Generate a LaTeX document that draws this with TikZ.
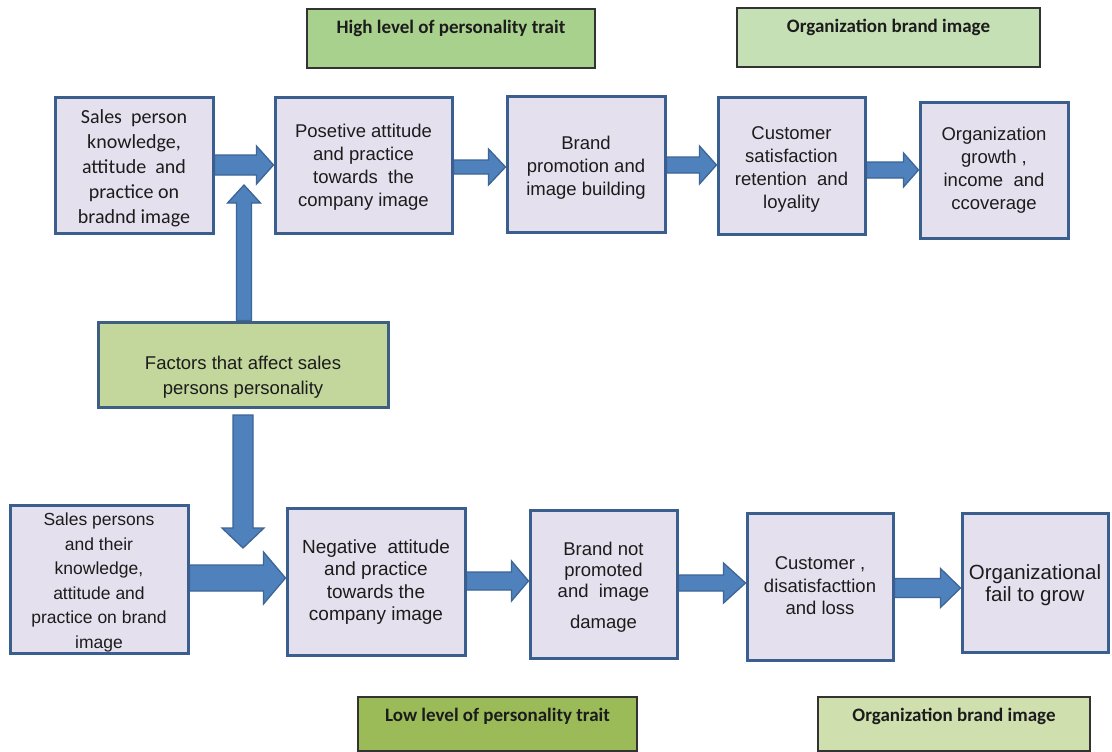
\documentclass[tikz,border=0pt]{standalone}
\usepackage{fontspec}
\setmainfont{Liberation Sans}
\newfontfamily\calib{Carlito}
\usetikzlibrary{calc}
\definecolor{boxfill}{HTML}{E5E0EE}
\definecolor{boxline}{HTML}{3A5F8F}
\definecolor{arrfill}{HTML}{4F81BD}
\definecolor{arrline}{HTML}{3C6696}
\definecolor{txt}{HTML}{1C1C1C}
\definecolor{headline}{HTML}{333333}
\definecolor{hfill}{HTML}{A9D18E}
\definecolor{otfill}{HTML}{C5E0B4}
\definecolor{ffill}{HTML}{C3D69B}
\definecolor{fline}{HTML}{3F5F80}
\definecolor{lfill}{HTML}{9BBB59}
\definecolor{obfill}{HTML}{D0DFAE}
\pgfdeclarelayer{background}
\pgfsetlayers{background,main}
\tikzset{
  box/.style={draw=boxline, line width=3pt, fill=boxfill, inner sep=0pt, align=center,
    font=\fontsize{18.5}{23}\selectfont, text=txt},
  headbox/.style={draw=headline, line width=1.2pt, inner sep=0pt,
    font=\calib\bfseries\fontsize{19}{22}\selectfont, text=txt},
  barrow/.style={fill=arrfill, draw=arrline, line width=1.3pt, line join=miter},
}
\newcommand\blockarrow[5]{%
  \coordinate (as) at (#1);
  \coordinate (ae) at (#2);
  \coordinate (ab) at ($(ae)!#5pt!(as)$);
  \path[barrow] ($(as)!#3pt!90:(ae)$) -- ($(ab)!#3pt!90:(ae)$) -- ($(ab)!#4pt!90:(ae)$)
    -- (ae) -- ($(ab)!#4pt!-90:(ae)$) -- ($(ab)!#3pt!-90:(ae)$) -- ($(as)!#3pt!-90:(ae)$) -- cycle;}
\newcommand\shiftdown[2]{\raisebox{-#1}[\height][\depth]{\begin{tabular}{@{}c@{}}#2\end{tabular}}}
\begin{document}
\begin{tikzpicture}[x=1pt,y=-1pt]
\useasboundingbox (0,0) rectangle (1112,752);
\begin{pgfonlayer}{background}
\fill[white] (0,0) rectangle (1112,752);
\end{pgfonlayer}

% headings
\node[headbox, fill=hfill, minimum width=288pt, minimum height=59pt, text height=25pt, text depth=34pt] (h1) at (451,38.5) {High level of personality trait};
\node[headbox, fill=otfill, minimum width=303pt, minimum height=59pt, text height=25pt, text depth=34pt] (h2) at (888.5,37.5) {Organization brand image};
\node[headbox, fill=lfill, minimum width=279pt, minimum height=54pt, text height=24pt, text depth=30pt] (l1) at (497.5,724) {Low level of personality trait};
\node[headbox, fill=obfill, minimum width=272pt, minimum height=54pt, text height=24pt, text depth=30pt] (l2) at (954,724) {Organization brand image};

% top row
\node[box, minimum width=158pt, minimum height=135pt, font=\calib\fontsize{20}{25}\selectfont] (b1) at (134,165.5) {\shiftdown{3pt}{Sales\ \ person\\knowledge,\\attitude\ \ and\\practice on\\bradnd image}};
\node[box, minimum width=177pt, minimum height=135pt] (b2) at (363.5,165.5) {\shiftdown{2pt}{Posetive attitude\\and practice\\towards\ \ the\\company image}};
\node[box, minimum width=158pt, minimum height=135pt] (b3) at (586,164.5) {\shiftdown{3pt}{Brand\\promotion and\\image building}};
\node[box, minimum width=147pt, minimum height=136pt] (b4) at (791.5,166) {\shiftdown{3pt}{Customer\\satisfaction\\retention\ \ and\\loyality}};
\node[box, minimum width=148pt, minimum height=135pt] (b5) at (994,170.5) {Organization\\growth ,\\income\ \ and\\ccoverage};

% factors
\node[box, draw=fline, fill=ffill, minimum width=290pt, minimum height=85pt, font=\fontsize{18.5}{25}\selectfont] (f) at (243,364.5) {\shiftdown{12pt}{Factors that affect sales\\persons personality}};

% bottom row
\node[box, minimum width=178pt, minimum height=148pt, font=\fontsize{17.5}{24.5}\selectfont] (c1) at (99,579) {\shiftdown{3pt}{Sales persons\\and their\\knowledge,\\attitude and\\practice on brand\\image}};
\node[box, minimum width=178pt, minimum height=147pt, font=\fontsize{19}{22.5}\selectfont] (c2) at (376,581.5) {\shiftdown{1pt}{Negative\ \ attitude\\and practice\\towards the\\company image}};
\node[box, minimum width=147pt, minimum height=148pt, font=\fontsize{18.5}{21}\selectfont] (c3) at (603.5,584) {\shiftdown{4pt}{Brand not\\promoted\\and\ \ image\\[10pt]damage}};
\node[box, minimum width=146pt, minimum height=147pt, font=\fontsize{18.5}{22.5}\selectfont] (c4) at (820,586.5) {\shiftdown{1pt}{Customer ,\\disatisfacttion\\and loss}};
\node[box, minimum width=146pt, minimum height=139pt, font=\fontsize{20.5}{22}\selectfont] (c5) at (1035,582.5) {\shiftdown{4pt}{Organizational\\fail to grow}};

\coordinate (uptip) at (244,185);
\coordinate (dntop) at (243,415);
\coordinate (dntip) at (243,548);

\begin{pgfonlayer}{background}
\blockarrow{b1.east |- 0,165}{b2.west |- 0,165}{10}{19}{17}
\blockarrow{b2.east |- 0,167}{b3.west |- 0,167}{7}{18}{17}
\blockarrow{b3.east |- 0,165}{b4.west |- 0,165}{8}{19}{17}
\blockarrow{b4.east |- 0,170}{b5.west |- 0,170}{8}{17}{15}
\blockarrow{c1.east |- 0,578}{c2.west |- 0,578}{13}{26}{22}
\blockarrow{c2.east |- 0,581}{c3.west |- 0,581}{9}{20}{17}
\blockarrow{c3.east |- 0,583}{c4.west |- 0,583}{8}{20}{22}
\blockarrow{c4.east |- 0,588}{c5.west |- 0,588}{9.5}{19.5}{20}
\blockarrow{244,0 |- f.north}{uptip}{7.5}{16.5}{18}
\blockarrow{dntop}{dntip}{10}{21}{20}
\end{pgfonlayer}
\end{tikzpicture}
\end{document}
